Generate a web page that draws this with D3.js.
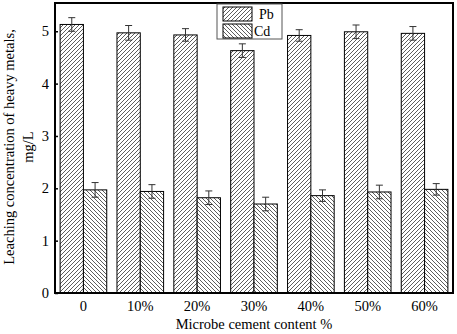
<!DOCTYPE html>
<html>
<head>
<meta charset="utf-8">
<script src="https://cdn.jsdelivr.net/npm/d3@7"></script>
<style>
html,body{margin:0;padding:0;background:#fff;}
svg{display:block;font-family:"Liberation Serif","Times New Roman",serif;}
</style>
</head>
<body>
<svg id="chart" width="457" height="334"></svg>
<script>
const categories = ["0", "10%", "20%", "30%", "40%", "50%", "60%"];
const seriesNames = ["Pb", "Cd"];
const pbValues = [5.13, 4.97, 4.93, 4.63, 4.92, 4.99, 4.96];
const pbErrors = [0.13, 0.14, 0.12, 0.13, 0.11, 0.13, 0.13];
const cdValues = [1.97, 1.94, 1.82, 1.70, 1.86, 1.93, 1.98];
const cdErrors = [0.14, 0.13, 0.13, 0.13, 0.11, 0.13, 0.11];
const yTicks = [0, 1, 2, 3, 4, 5];

const svg = d3.select("#chart");
const L = 55, R = 453, T = 3, B = 293;

const x = d3.scaleBand().domain(categories).range([L, R]).padding(0);
const y = d3.scaleLinear().domain([0, 5.54]).range([B, T]);
const barW = x.step() * 0.41;

const defs = svg.append("defs");
function hatch(id, forward) {
  const p = defs.append("pattern").attr("id", id).attr("patternUnits", "userSpaceOnUse")
    .attr("width", 4).attr("height", 4);
  p.append("rect").attr("width", 4).attr("height", 4).attr("fill", "#fff");
  p.append("path")
    .attr("d", forward ? "M-1,1 L1,-1 M0,4 L4,0 M3,5 L5,3" : "M-1,3 L1,5 M0,0 L4,4 M3,-1 L5,1")
    .attr("stroke", "#333").attr("stroke-width", 0.8);
}
hatch("hPb", true);
hatch("hCd", false);

const series = [
  {name: seriesNames[0], values: pbValues, errors: pbErrors, fill: "url(#hPb)", off: -1},
  {name: seriesNames[1], values: cdValues, errors: cdErrors, fill: "url(#hCd)", off: 0}
];

series.forEach(s => {
  const g = svg.append("g");
  categories.forEach((c, i) => {
    const cx = x(c) + x.bandwidth() / 2;
    const x0 = cx + s.off * barW;
    g.append("rect").attr("x", x0).attr("y", y(s.values[i]))
      .attr("width", barW).attr("height", y(0) - y(s.values[i]))
      .attr("fill", s.fill).attr("stroke", "#000").attr("stroke-width", 1);
    const ex = x0 + barW / 2;
    const top = y(s.values[i] + s.errors[i]), bot = y(s.values[i] - s.errors[i]);
    g.append("line").attr("x1", ex).attr("x2", ex).attr("y1", top).attr("y2", bot)
      .attr("stroke", "#333").attr("stroke-width", 1);
    [top, bot].forEach(yy => g.append("line").attr("x1", ex - 3.5).attr("x2", ex + 3.5)
      .attr("y1", yy).attr("y2", yy).attr("stroke", "#333").attr("stroke-width", 1));
  });
});

// frame
svg.append("rect").attr("x", L).attr("y", T).attr("width", R - L).attr("height", B - T)
  .attr("fill", "none").attr("stroke", "#000").attr("stroke-width", 2);

// y axis
const yAxis = d3.axisLeft(y).tickValues(yTicks).tickSize(-3).tickPadding(6).tickFormat(d3.format("d"));
const ya = svg.append("g").attr("transform", `translate(${L},0)`).call(yAxis);
ya.select(".domain").remove();
ya.selectAll(".tick line").attr("stroke", "#000").attr("stroke-width", 1.5);
ya.selectAll("text").attr("font-size", 14.5).attr("font-family", "Liberation Serif").attr("fill", "#000");

// x axis
const xAxis = d3.axisBottom(x).tickSize(0).tickPadding(8);
const xa = svg.append("g").attr("transform", `translate(0,${B})`).call(xAxis);
xa.select(".domain").remove();
xa.selectAll("text").attr("font-size", 14.5).attr("font-family", "Liberation Serif").attr("fill", "#000");

// titles
svg.append("text").attr("x", 254).attr("y", 329).attr("text-anchor", "middle")
  .attr("font-size", 14.5).text("Microbe cement content %");
svg.append("text").attr("transform", "translate(14,147) rotate(-90)").attr("text-anchor", "middle")
  .attr("font-size", 14.5).text("Leaching concentration of heavy metals,");
svg.append("text").attr("transform", "translate(33,147) rotate(-90)").attr("text-anchor", "middle")
  .attr("font-size", 14.5).text("mg/L");

// legend
const lg = svg.append("g");
lg.append("rect").attr("x", 217).attr("y", 4).attr("width", 65).attr("height", 35)
  .attr("fill", "#fff").attr("stroke", "#555").attr("stroke-width", 1);
series.forEach((s, i) => {
  const yy = 7 + i * 17;
  lg.append("rect").attr("x", 223).attr("y", yy).attr("width", 29).attr("height", 14)
    .attr("fill", s.fill).attr("stroke", "#000").attr("stroke-width", 1);
  lg.append("text").attr("x", i === 0 ? 259 : 254).attr("y", yy + 12)
    .attr("font-size", 14).text(s.name);
});
</script>
</body>
</html>
